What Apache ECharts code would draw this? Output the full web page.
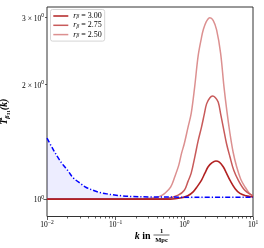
<!DOCTYPE html>
<html><head><meta charset="utf-8">
<script src="https://cdn.jsdelivr.net/npm/echarts@6/dist/echarts.min.js"></script>
<style>html,body{margin:0;padding:0;background:#fff}#c{width:264px;height:248px}</style>
</head><body><div id="c"></div>
<script>
// ---- data ----
const kBlue = [0.01, 0.0126, 0.0161, 0.02, 0.0238, 0.0316, 0.0373, 0.0501, 0.0583, 0.0794, 0.0914, 0.126, 0.171, 0.316, 1.0, 10];
const vBlue = [1.447, 1.34, 1.249, 1.19, 1.14, 1.095, 1.073, 1.05, 1.041, 1.03, 1.026, 1.02, 1.016, 1.013, 1.012, 1.012];

const k250 = [0.01, 0.1, 0.251, 0.355, 0.447, 0.519, 0.631, 0.726, 0.832, 0.910, 1.0, 1.135, 1.259, 1.413, 1.589, 1.778, 1.879, 2.089, 2.355, 2.630, 2.951, 3.373, 3.776, 4.169, 4.613, 5.129, 5.781, 6.607, 7.638, 8.710, 10];
const v250 = [1.0, 1.0, 1.001, 1.006, 1.018, 1.035, 1.075, 1.145, 1.23, 1.319, 1.40, 1.549, 1.68, 1.97, 2.38, 2.66, 2.78, 2.93, 3.0, 2.95, 2.785, 2.42, 1.975, 1.70, 1.49, 1.33, 1.216, 1.13, 1.077, 1.04, 1.018];

const k275 = [0.01, 0.1, 0.398, 0.562, 0.813, 1.0, 1.135, 1.259, 1.422, 1.585, 1.782, 1.950, 2.109, 2.344, 2.582, 2.818, 3.112, 3.388, 3.681, 4.111, 4.613, 5.248, 6.095, 7.586, 9.572, 10];
const v275 = [1.0, 1.0, 1.001, 1.004, 1.024, 1.055, 1.115, 1.17, 1.292, 1.42, 1.549, 1.67, 1.78, 1.845, 1.866, 1.85, 1.80, 1.67, 1.549, 1.40, 1.292, 1.19, 1.122, 1.055, 1.024, 1.02];

const k300 = [0.01, 0.1, 0.631, 0.910, 1.122, 1.343, 1.549, 1.782, 1.995, 2.223, 2.512, 2.884, 3.236, 3.681, 4.111, 4.613, 5.495, 6.457, 7.943, 9.572, 10];
const v300 = [1.0, 1.0, 1.0, 1.008, 1.02, 1.045, 1.08, 1.122, 1.17, 1.216, 1.245, 1.259, 1.25, 1.216, 1.17, 1.122, 1.065, 1.035, 1.02, 1.014, 1.013];

const seriesNames = ['3.00', '2.75', '2.50'];
const xTickExponents = [-2, -1, 0, 1];
const yTickValues = [1, 2, 3];
const xMinorMultipliers = [2, 3, 4, 5, 6, 7, 8, 9];

// ---- chart ----
const SERIF = 'Liberation Serif';
const pairs = (ks, vs) => ks.map((k, i) => [k, vs[i]]);
const lg = Math.log10;

const tickRich = {
  n: { fontFamily: SERIF, fontSize: 7.5, color: '#000', lineHeight: 10, verticalAlign: 'bottom' },
  s: { fontFamily: SERIF, fontSize: 5.5, color: '#000', lineHeight: 4, verticalAlign: 'top' }
};
const minorX = [];
for (let e = -2; e < 1; e++) xMinorMultipliers.forEach(m => minorX.push(lg(m * Math.pow(10, e))));
const yLabelPos = yTickValues.map(v => lg(v));
const yMin = 0.9, yMax = 3.2;
const tickLine = { color: '#333', width: 0.8 };
const legendIcon = 'path://M0,0h20v2h-20z';

const chart = echarts.init(document.getElementById('c'), null, { renderer: 'canvas', width: 264, height: 248 });
chart.setOption({
  animation: false,
  backgroundColor: '#fff',
  grid: { left: 47, top: 7, width: 206, height: 209.5, show: true, borderColor: '#333', borderWidth: 1, backgroundColor: 'transparent', containLabel: false, outerBoundsMode: 'none' },
  xAxis: [
    { type: 'log', logBase: 10, min: 0.01, max: 10, position: 'bottom', axisLine: { show: false, onZero: false }, axisTick: { show: false }, axisLabel: { show: false }, splitLine: { show: false } },
    { type: 'value', min: -2, max: 1, interval: 1, position: 'bottom',
      axisLine: { show: false, onZero: false },
      axisTick: { show: true, length: 3.5, customValues: xTickExponents, lineStyle: tickLine },
      axisLabel: { margin: 3, customValues: xTickExponents, formatter: v => '{n|10}{s|' + (v < 0 ? '\u2212' : '') + Math.abs(v) + '}', rich: tickRich },
      splitLine: { show: false } },
    { type: 'value', min: -2, max: 1, position: 'bottom',
      axisLine: { show: false, onZero: false },
      axisTick: { show: true, length: 2, customValues: minorX, lineStyle: tickLine },
      axisLabel: { show: false }, splitLine: { show: false } }
  ],
  yAxis: [
    { type: 'log', logBase: 10, min: yMin, max: yMax, position: 'left', axisLine: { show: false, onZero: false }, axisTick: { show: false }, axisLabel: { show: false }, splitLine: { show: false } },
    { type: 'value', min: lg(yMin), max: lg(yMax), position: 'left',
      axisLine: { show: false, onZero: false },
      axisTick: { show: true, length: 3.5, customValues: [lg(1)], lineStyle: tickLine },
      axisLabel: { margin: 3, customValues: yLabelPos,
        formatter: v => { const t = Math.round(Math.pow(10, v)); return t === 1 ? '{n|10}{s|0}' : '{n|' + t + ' \u00d7 10}{s|0}'; },
        rich: tickRich },
      splitLine: { show: false },
      name: '{b|T}{p|2}{q|\u03b2}{r|31}{b|(k)}', nameLocation: 'middle', nameRotate: 90, nameGap: 31,
      nameTextStyle: { rich: {
        b: { fontFamily: SERIF, fontSize: 10, fontWeight: 'bold', fontStyle: 'italic', color: '#000', lineHeight: 14, verticalAlign: 'middle' },
        p: { fontFamily: SERIF, fontSize: 6.5, fontWeight: 'bold', fontStyle: 'italic', color: '#000', lineHeight: 6, verticalAlign: 'top', width: 0.1 },
        q: { fontFamily: SERIF, fontSize: 6.5, fontWeight: 'bold', fontStyle: 'italic', color: '#000', lineHeight: 5, verticalAlign: 'bottom' },
        r: { fontFamily: SERIF, fontSize: 5, fontWeight: 'bold', color: '#000', lineHeight: 3, verticalAlign: 'bottom' }
      } } },
    { type: 'value', min: lg(yMin), max: lg(yMax), position: 'left',
      axisLine: { show: false, onZero: false },
      axisTick: { show: true, length: 2, customValues: [lg(2), lg(3)], lineStyle: tickLine },
      axisLabel: { show: false }, splitLine: { show: false } }
  ],
  legend: {
    data: seriesNames.map(n => ({ name: n, icon: legendIcon })), orient: 'vertical', left: 50.5, top: 9.5,
    padding: [2.5, 3, 2.5, 2.8], itemWidth: 15, itemHeight: 8, itemGap: 1.3,
    backgroundColor: 'rgba(255,255,255,0.85)', borderColor: '#cccccc', borderWidth: 0.8, borderRadius: 2,
    formatter: name => '{i|r}{b|\u03b2}{n| = ' + name + '}',
    textStyle: { rich: {
      i: { fontFamily: SERIF, fontSize: 8, fontStyle: 'italic', color: '#000', lineHeight: 8, verticalAlign: 'middle' },
      b: { fontFamily: SERIF, fontSize: 5.5, fontStyle: 'italic', color: '#000', lineHeight: 4, verticalAlign: 'bottom' },
      n: { fontFamily: SERIF, fontSize: 8, color: '#000', lineHeight: 8, verticalAlign: 'middle' }
    } }
  },
  series: [
    { name: '2.50', type: 'line', xAxisIndex: 0, yAxisIndex: 0, data: pairs(k250, v250), symbol: 'none', smooth: 0.35,
      lineStyle: { color: '#dc9090', width: 1.5 }, itemStyle: { color: '#dc9090' }, z: 2 },
    { name: '2.75', type: 'line', xAxisIndex: 0, yAxisIndex: 0, data: pairs(k275, v275), symbol: 'none', smooth: 0.35,
      lineStyle: { color: '#c85a5a', width: 1.5 }, itemStyle: { color: '#c85a5a' }, z: 2 },
    { name: '3.00', type: 'line', xAxisIndex: 0, yAxisIndex: 0, data: pairs(k300, v300), symbol: 'none', smooth: 0.35,
      lineStyle: { color: '#b22222', width: 1.6 }, itemStyle: { color: '#b22222' }, z: 2 },
    { name: 'blue', type: 'line', xAxisIndex: 0, yAxisIndex: 0, data: pairs(kBlue, vBlue), symbol: 'none', smooth: 0.35,
      lineStyle: { color: '#0000ff', width: 1.5, type: [5, 2, 1.2, 2] }, itemStyle: { color: '#0000ff' },
      areaStyle: { color: 'rgba(0,0,255,0.1)', origin: 1 }, z: 3 }
  ],
  graphic: [
    { type: 'text', x: 150.5, y: 236, style: { text: '{k|k}{r| in}', align: 'right', verticalAlign: 'middle', rich: {
        k: { fontFamily: SERIF, fontSize: 10, fontWeight: 'bold', fontStyle: 'italic', fill: '#000' },
        r: { fontFamily: SERIF, fontSize: 10, fontWeight: 'bold', fill: '#000' } } } },
    { type: 'text', x: 161.5, y: 231, style: { text: '1', font: 'bold 6.5px "Liberation Serif"', align: 'center', verticalAlign: 'middle', fill: '#000' } },
    { type: 'line', shape: { x1: 153.5, y1: 235, x2: 169.5, y2: 235 }, style: { stroke: '#000', lineWidth: 0.6 } },
    { type: 'text', x: 161.5, y: 240, style: { text: 'Mpc', font: 'bold 6.5px "Liberation Serif"', align: 'center', verticalAlign: 'middle', fill: '#000' } }
  ]
});
</script>
</body></html>
